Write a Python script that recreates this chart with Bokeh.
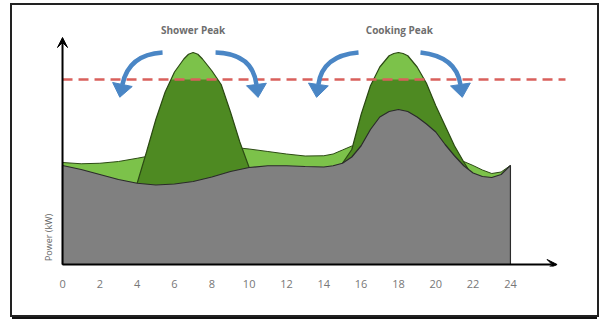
import math
from bokeh.plotting import figure
from bokeh.models import Range1d, FixedTicker, Arrow, VeeHead
from bokeh.core.properties import value
from bokeh.embed import file_html
from bokeh.resources import INLINE

# ---------------- data (hours, kW) ----------------
TICKS = [0, 2, 4, 6, 8, 10, 12, 14, 16, 18, 20, 22, 24]

BASE_H = [0, 1, 2, 3, 4, 5, 6, 7, 8, 9, 10, 11, 12, 13, 14, 14.5, 15, 15.5, 16,
          16.5, 17, 17.5, 18, 18.5, 19, 19.5, 20, 20.5, 21, 21.5, 22, 22.5, 23, 23.5, 24]
BASE_KW = [3.96, 3.8, 3.6, 3.4, 3.25, 3.18, 3.22, 3.32, 3.5, 3.72, 3.88, 3.95, 3.95, 3.92, 3.9, 3.95, 4.05, 4.3, 4.75,
           5.4, 5.9, 6.12, 6.2, 6.12, 5.9, 5.62, 5.3, 4.8, 4.35, 3.95, 3.66, 3.52, 3.48, 3.6, 3.96]

SHOWER_H = [4.0, 4.5, 5.0, 5.5, 6.0, 6.5, 6.75, 7.0, 7.25, 7.5, 8.0, 8.5, 9.0, 9.5, 10.0]
SHOWER_KW = [3.25, 4.5, 5.8, 6.9, 7.7, 8.22, 8.41, 8.48, 8.41, 8.22, 7.75, 7.2, 6.1, 4.9, 3.88]

COOK_H = [15.0, 15.5, 16.0, 16.5, 17.0, 17.5, 17.75, 18.0, 18.25, 18.5, 19.0, 19.5, 20.0, 20.5, 21.0, 21.5, 21.75]
COOK_KW = [4.05, 4.6, 6.0, 7.15, 7.9, 8.35, 8.44, 8.48, 8.44, 8.35, 7.9, 7.25, 6.35, 5.55, 4.75, 4.1, 3.8]

SHIFT_LEFT_H = [0, 1, 2, 3, 4, 4.5]
SHIFT_LEFT_KW = [4.08, 4.03, 4.05, 4.12, 4.25, 4.32]
SHIFT_MID_H = [9.5, 10, 11, 12, 13, 14, 14.5, 15, 15.5]
SHIFT_MID_KW = [4.66, 4.62, 4.52, 4.42, 4.34, 4.35, 4.42, 4.58, 4.74]
SHIFT_RIGHT_H = [21.5, 22, 22.5, 23, 23.5, 24]
SHIFT_RIGHT_KW = [4.12, 3.96, 3.78, 3.64, 3.7, 3.96]

THRESHOLD_KW = 7.4
THRESHOLD_SPAN_H = [0, 26.95]

PEAK_TITLES = ["Shower Peak", "Cooking Peak"]
PEAK_TITLE_H = [7.0, 18.05]
PEAK_TITLE_KW = 9.4

# curved shifting arrows: tail, control, end (start of head)
ARROW_TAIL_H = [5.36, 8.2, 15.86, 19.18]
ARROW_TAIL_KW = [8.48, 8.48, 8.48, 8.48]
ARROW_CTRL_H = [3.54, 10.18, 13.93, 21.1]
ARROW_CTRL_KW = [8.4, 8.44, 8.36, 8.32]
ARROW_END_H = [3.21, 10.39, 13.71, 21.32]
ARROW_END_KW = [7.2, 7.2, 7.2, 7.2]

X_ARROW_END = 26.5
Y_ARROW_END = 9.08

# ---------------- colours ----------------
LIGHT_GREEN = "#7cc24a"
DARK_GREEN = "#4e8a22"
GREY = "#808080"
EDGE = "#2c4a14"
RED = "#d9605c"
BLUE = "#4a86c5"

X0, X1 = -1.18, 28.29
Y0, Y1 = -0.08, 9.92
FRAME_W, FRAME_H = 550, 250
SX = FRAME_W / (X1 - X0)
SY = FRAME_H / (Y1 - Y0)

p = figure(width=585, height=310, x_range=Range1d(X0, X1), y_range=Range1d(Y0, Y1),
           output_backend="svg", toolbar_location=None, y_axis_location=None,
           min_border_left=28, min_border_right=7, min_border_top=11, min_border_bottom=49)
p.margin = (5, 0, 0, 12)
p.styles = {"box-shadow": "0 0 0 2px #222222, 0 4px 0 0 #111111"}
p.grid.visible = False
p.outline_line_color = None
p.background_fill_color = "white"
p.border_fill_color = "white"

p.xaxis.ticker = FixedTicker(ticks=TICKS)
p.xaxis.axis_line_color = None
p.xaxis.major_tick_line_color = None
p.xaxis.minor_tick_line_color = None
p.xaxis.major_label_standoff = 7
p.xaxis.major_label_text_font = "Open Sans"
p.xaxis.major_label_text_font_size = "11px"
p.xaxis.major_label_text_color = "#777777"


def clip_top(xs, ys, level):
    ox, oy = [], []
    for i in range(len(xs)):
        if i > 0:
            y0, y1 = ys[i - 1], ys[i]
            if (y0 - level) * (y1 - level) < 0:
                t = (level - y0) / (y1 - y0)
                ox.append(xs[i - 1] + t * (xs[i] - xs[i - 1]))
                oy.append(level)
        ox.append(xs[i])
        oy.append(min(ys[i], level))
    return ox, oy


# light green shifted load (chords under peaks are hidden by the peaks)
sx_all = SHIFT_LEFT_H + SHIFT_MID_H + SHIFT_RIGHT_H
sy_all = SHIFT_LEFT_KW + SHIFT_MID_KW + SHIFT_RIGHT_KW
p.patch(sx_all + [24, 0], sy_all + [0, 0], fill_color=LIGHT_GREEN, line_color=EDGE, line_width=1)

# peaks: whole peak in light green, part below threshold in dark green
for hs, ks in [(SHOWER_H, SHOWER_KW), (COOK_H, COOK_KW)]:
    p.patch(hs + [hs[-1], hs[0]], ks + [0, 0], fill_color=LIGHT_GREEN, line_color=None)
    cx, cy = clip_top(hs, ks, THRESHOLD_KW)
    p.patch(cx + [cx[-1], cx[0]], cy + [0, 0], fill_color=DARK_GREEN, line_color=None)
    p.line(hs, ks, line_color=EDGE, line_width=1.2)

# base load
p.patch([0] + BASE_H + [24], [0] + BASE_KW + [0], fill_color=GREY, line_color="#2b2b2b", line_width=1.2)

# threshold
p.line(THRESHOLD_SPAN_H, [THRESHOLD_KW, THRESHOLD_KW], line_color=RED, line_width=2.5, line_dash="10 6")

# curved blue arrows
p.quadratic(x0=ARROW_TAIL_H, y0=ARROW_TAIL_KW, x1=ARROW_END_H, y1=ARROW_END_KW,
            cx=ARROW_CTRL_H, cy=ARROW_CTRL_KW, line_color=BLUE, line_width=4.5)
head_xs, head_ys = [], []
HEAD_LEN, HEAD_HALF = 13.0, 10.0
for ex, ey, cxx, cyy in zip(ARROW_END_H, ARROW_END_KW, ARROW_CTRL_H, ARROW_CTRL_KW):
    dx, dy = (ex - cxx) * SX, (ey - cyy) * SY
    n = math.hypot(dx, dy)
    ux, uy = dx / n, dy / n
    tx, ty = ex + ux * HEAD_LEN / SX, ey + uy * HEAD_LEN / SY
    px_, py_ = -uy, ux
    head_xs.append([ex + px_ * HEAD_HALF / SX, tx, ex - px_ * HEAD_HALF / SX])
    head_ys.append([ey + py_ * HEAD_HALF / SY, ty, ey - py_ * HEAD_HALF / SY])
p.patches(head_xs, head_ys, fill_color=BLUE, line_color=BLUE, line_width=1)

# axes arrows
p.add_layout(Arrow(end=VeeHead(size=10, fill_color="black", line_color="black"),
                   x_start=0, y_start=0, x_end=X_ARROW_END, y_end=0, line_width=2, line_color="black"))
p.add_layout(Arrow(end=VeeHead(size=10, fill_color="black", line_color="black"),
                   x_start=0, y_start=0, x_end=0, y_end=Y_ARROW_END, line_width=2, line_color="black"))

# texts
p.text(PEAK_TITLE_H, [PEAK_TITLE_KW] * 2, text=PEAK_TITLES, text_font=value("Open Sans"),
       text_font_size="10px", text_font_style="bold", text_color="#6e6e6e",
       text_align="center", text_baseline="middle")
p.text([-0.75], [1.08], text=["Power (kW)"], angle=math.pi / 2, text_font=value("Open Sans"),
       text_font_size="9px", text_color="#666666", text_align="center", text_baseline="middle")

open("out.html", "w").write(file_html(p, INLINE))
